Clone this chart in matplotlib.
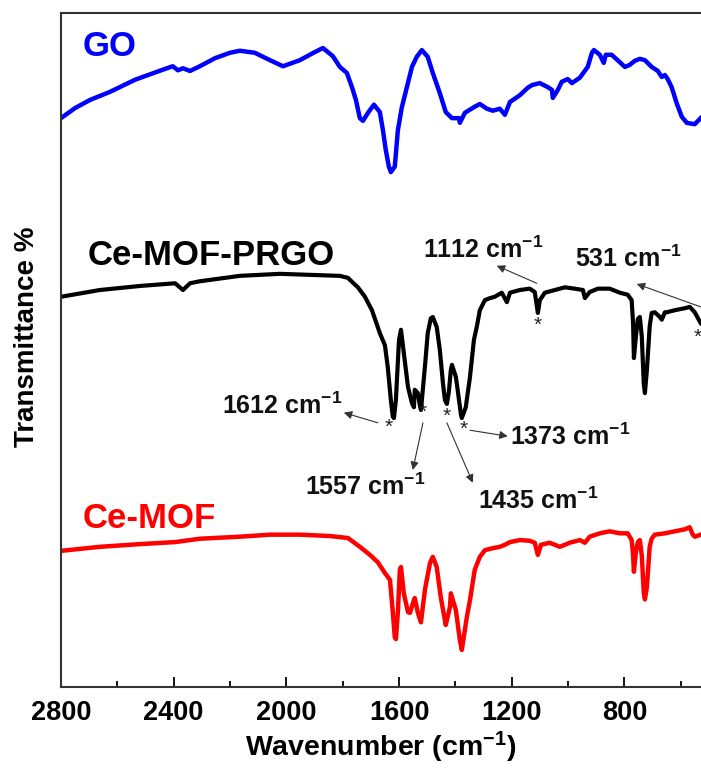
import matplotlib
matplotlib.use('Agg')
import matplotlib.pyplot as plt
import matplotlib.ticker as ticker

plt.rcParams['font.family'] = ['Liberation Sans', 'DejaVu Sans']
plt.rcParams['font.weight'] = 'bold'
plt.rcParams['mathtext.fontset'] = 'custom'
plt.rcParams['mathtext.rm'] = 'Liberation Sans:bold'
plt.rcParams['mathtext.bf'] = 'Liberation Sans:bold'
plt.rcParams['mathtext.default'] = 'bf'

# FTIR spectra (wavenumber cm-1, transmittance in arbitrary offset units)
go_wn = [2800, 2750, 2697, 2626, 2537, 2484, 2431, 2403, 2385, 2367, 2342, 2307, 2253, 2200,
         2165, 2112, 2058, 2012, 1952, 1899, 1870, 1835, 1810, 1785, 1767, 1753, 1739, 1728,
         1710, 1689, 1668, 1657, 1647, 1636, 1629, 1615, 1604, 1590, 1572, 1554, 1537, 1519,
         1498, 1480, 1455, 1434, 1412, 1387, 1384, 1366, 1331, 1313, 1288, 1267, 1242, 1224,
         1206, 1171, 1143, 1128, 1100, 1072, 1057, 1054, 1036, 1022, 1001, 986, 958, 930,
         915, 908, 887, 873, 866, 845, 816, 798, 781, 763, 745, 727, 703, 681, 667, 656, 646,
         632, 614, 596, 578, 550, 529]
go_t = [84.4, 85.9, 87.1, 88.3, 90.1, 90.9, 91.7, 92.1, 91.5, 91.8, 91.4, 92.1, 93.3, 94.1,
        94.4, 94.1, 93.0, 92.1, 93.0, 94.2, 94.8, 93.6, 92.0, 91.1, 89.0, 87.1, 84.4, 84.0,
        85.2, 86.4, 85.3, 82.6, 79.7, 77.2, 76.4, 77.2, 82.6, 86.0, 89.0, 92.0, 93.5, 94.5,
        93.5, 91.1, 88.1, 85.3, 84.4, 84.4, 83.7, 85.2, 86.1, 86.5, 85.8, 85.5, 85.8, 84.9,
        86.8, 87.8, 88.9, 89.3, 89.6, 89.0, 88.6, 87.4, 88.6, 89.8, 90.2, 89.6, 90.4, 92.0,
        94.1, 94.5, 93.8, 92.6, 93.8, 93.8, 92.7, 92.0, 92.3, 92.9, 93.2, 93.0, 92.0, 91.4,
        90.5, 90.8, 90.2, 89.0, 86.6, 84.6, 83.7, 83.5, 84.4]

prgo_wn = [2800, 2662, 2520, 2395, 2367, 2342, 2307, 2165, 2023, 1881, 1810, 1781, 1774, 1746,
           1721, 1696, 1668, 1650, 1640, 1629, 1622, 1618, 1611, 1600, 1593, 1583, 1568, 1554,
           1547, 1544, 1533, 1526, 1522, 1508, 1498, 1487, 1480, 1466, 1455, 1444, 1437, 1430,
           1423, 1416, 1412, 1398, 1387, 1380, 1377, 1363, 1348, 1334, 1324, 1313, 1295, 1277,
           1260, 1235, 1217, 1206, 1171, 1136, 1118, 1107, 1100, 1082, 1047, 1011, 976, 947,
           940, 923, 894, 852, 816, 788, 774, 769, 766, 759, 752, 745, 738, 731, 727, 720, 710,
           703, 692, 674, 667, 656, 649, 621, 585, 568, 550, 532, 529]
prgo_t = [57.9, 58.9, 59.5, 59.9, 58.9, 59.9, 60.2, 61.0, 61.3, 61.1, 61.0, 60.7, 60.4, 59.3,
          57.9, 55.9, 52.5, 50.7, 47.5, 42.6, 40.1, 39.9, 42.6, 51.5, 53.0, 49.6, 44.5, 42.1,
          41.5, 44.1, 43.6, 41.8, 41.1, 47.5, 52.5, 54.7, 54.9, 53.4, 50.0, 45.1, 42.6, 42.0,
          43.8, 47.0, 47.8, 46.0, 42.6, 40.4, 39.9, 41.5, 46.0, 51.5, 53.4, 55.9, 57.4, 57.7,
          57.9, 58.5, 57.1, 58.5, 58.9, 59.1, 58.6, 55.5, 57.4, 58.5, 58.9, 59.3, 59.1, 58.9,
          57.7, 58.6, 59.1, 59.1, 58.5, 58.2, 57.4, 54.0, 48.8, 52.0, 54.6, 54.9, 52.0, 45.0,
          43.6, 47.0, 53.5, 55.5, 55.6, 54.9, 54.5, 55.6, 55.6, 55.9, 56.2, 56.4, 55.6, 54.2, 54.0]

mof_wn = [2800, 2662, 2520, 2395, 2307, 2165, 2058, 1952, 1845, 1781, 1739, 1703, 1675, 1650,
          1632, 1622, 1615, 1611, 1604, 1597, 1593, 1583, 1568, 1561, 1547, 1544, 1533, 1522,
          1508, 1490, 1480, 1466, 1452, 1437, 1434, 1419, 1416, 1398, 1384, 1377, 1366, 1359,
          1348, 1331, 1313, 1295, 1267, 1242, 1224, 1206, 1171, 1136, 1118, 1107, 1096, 1065,
          1047, 1029, 994, 958, 940, 923, 887, 852, 816, 788, 774, 769, 766, 759, 752, 745, 738,
          731, 727, 720, 710, 703, 692, 656, 621, 585, 568, 557, 550, 529]
mof_t = [20.2, 20.8, 21.2, 21.5, 22.0, 22.3, 22.6, 22.6, 22.4, 22.1, 20.8, 19.6, 18.5, 16.9,
         15.9, 11.1, 7.4, 7.1, 11.1, 17.4, 17.8, 13.9, 11.1, 11.0, 12.9, 13.2, 11.0, 9.6,
         14.4, 18.4, 19.3, 17.8, 13.4, 9.9, 9.2, 11.9, 13.9, 11.4, 7.0, 5.5, 8.5, 10.4,
         12.9, 17.4, 19.3, 20.3, 20.6, 20.8, 21.1, 21.5, 21.8, 21.7, 21.4, 19.6, 21.1, 21.4,
         21.1, 20.8, 21.4, 21.8, 21.4, 22.3, 22.8, 23.1, 22.8, 22.8, 21.8, 19.6, 17.1, 20.0,
         21.5, 21.8, 19.5, 14.0, 13.0, 14.8, 20.8, 22.0, 22.6, 22.8, 23.1, 23.4, 23.7, 22.6,
         22.3, 22.6]

# peak labels: text, text anchor (wn, t), arrow tail (wn, t), arrow head (wn, t)
peak_labels = ['1612', '1557', '1435', '1373', '1112', '531']
label_wn = [2229, 1934, 1320, 1207, 1515, 976]
label_t = [41.7, 29.7, 27.7, 37.1, 64.8, 63.6]
tail_wn = [1675, 1515, 1430, 1348, 1111, 529]
tail_t = [39.2, 39.2, 39.2, 38.1, 59.9, 56.4]
head_wn = [1796, 1551, 1338, 1214, 1253, 756]
head_t = [40.7, 32.2, 30.3, 37.2, 62.5, 59.8]
star_wn = [1636, 1515, 1430, 1370, 1107, 539]
star_t = [38.6, 40.7, 40.2, 38.3, 53.7, 51.9]

tick_vals = [2800, 2400, 2000, 1600, 1200, 800]

fig = plt.figure(figsize=(7.01, 7.74), dpi=100)
# axis runs to 400 cm-1 but the figure is cut off at ~530
ax = fig.add_axes([61 / 701, 87 / 774, 676 / 701, 674 / 774])

ax.plot(go_wn, go_t, color='#0000ff', linewidth=3.2, solid_joinstyle='round')
ax.plot(prgo_wn, prgo_t, color='black', linewidth=3.0, solid_joinstyle='round')
ax.plot(mof_wn, mof_t, color='#ff0000', linewidth=3.2, solid_joinstyle='round')

ax.set_xlim(2800, 400)
ax.set_ylim(0, 100)

ax.text(2725, 95, 'GO', color='#0000ff', fontsize=25, fontweight='bold', va='center')
ax.text(2705, 64.0, 'Ce-MOF-PRGO', color='black', fontsize=25, fontweight='bold', va='center')
ax.text(2725, 25.0, 'Ce-MOF', color='#ff0000', fontsize=25, fontweight='bold', va='center')

for i in range(len(peak_labels)):
    ax.text(label_wn[i], label_t[i], peak_labels[i] + ' cm$^{-1}$', fontsize=18,
            fontweight='bold', ha='left', va='center', color='#111111')
    ax.annotate('', xy=(head_wn[i], head_t[i]), xytext=(tail_wn[i], tail_t[i]),
                arrowprops=dict(arrowstyle='-|>', color='#333333', lw=0.8,
                                mutation_scale=12, shrinkA=0, shrinkB=0))
    ax.text(star_wn[i], star_t[i], '*', fontsize=15, fontweight='normal',
            ha='center', va='center', color='#222222')

ax.xaxis.set_major_locator(ticker.FixedLocator(tick_vals))
ax.xaxis.set_minor_locator(ticker.MultipleLocator(200))
ax.tick_params(axis='x', which='major', direction='in', length=7, width=1.3,
               labelsize=19.5, pad=9)
ax.tick_params(axis='x', which='minor', direction='in', length=4, width=1.3)
ax.set_yticks([])
for lab in ax.get_xticklabels():
    lab.set_fontweight('bold')

for s in ['top', 'bottom', 'left', 'right']:
    ax.spines[s].set_linewidth(1.5)
    ax.spines[s].set_color('#333333')

fig.text(381 / 701, 1 - 747 / 774, 'Wavenumber (cm$^{-1}$)', fontsize=20.5,
         fontweight='bold', ha='center', va='center')
fig.text(27 / 701, 1 - 337 / 774, 'Transmittance %', fontsize=20, fontweight='bold',
         rotation=90, ha='center', va='center')

plt.savefig('out.png', dpi=100)
